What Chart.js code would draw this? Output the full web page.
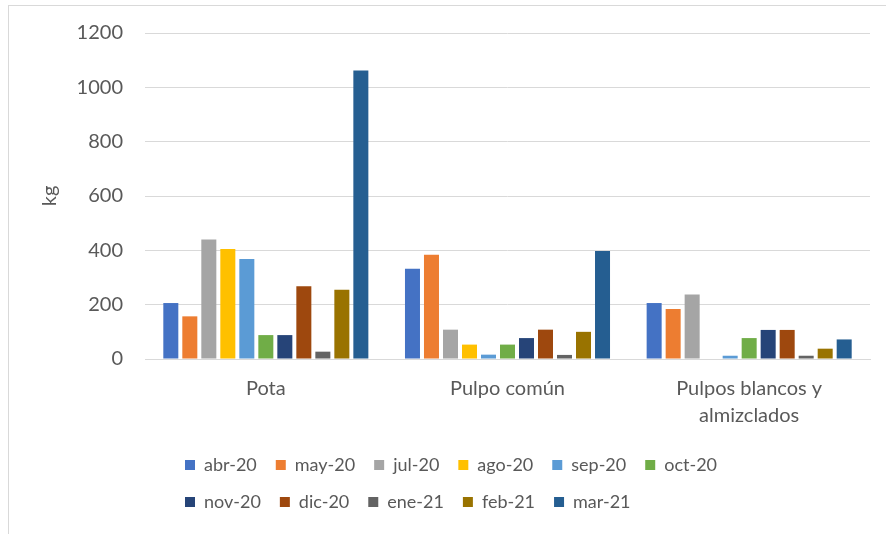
<!DOCTYPE html>
<html>
<head>
<meta charset="utf-8">
<script src="https://cdn.jsdelivr.net/npm/chart.js@4/dist/chart.umd.min.js"></script>
<style>
  html, body { margin: 0; padding: 0; background: #fff; }
  #frame {
    position: absolute; left: 8px; top: 5px; width: 878px; height: 529px;
    border-left: 1px solid #d9d9d9; border-top: 1px solid #d9d9d9;
  }
  #wrap { position: relative; width: 877px; height: 528px; }
</style>
</head>
<body>
<div id="frame"><div id="wrap"><canvas id="kgChart"></canvas></div></div>
<script>
// Categories (x axis) and months (series)
const categories = ["Pota", "Pulpo común", ["Pulpos blancos y", "almizclados"]];
const months = ["abr-20", "may-20", "jul-20", "ago-20", "sep-20", "oct-20",
  "nov-20", "dic-20", "ene-21", "feb-21", "mar-21"];

// kg per month, one array per category
const pota = [206, 157, 440, 405, 368, 88, 88, 268, 27, 255, 1062];
const pulpoComun = [332, 384, 108, 53, 16, 53, 77, 108, 15, 100, 398];
const pulposBlancos = [206, 184, 237, null, 12, 77, 107, 107, 12, 38, 72];

const yTicks = [0, 200, 400, 600, 800, 1000, 1200];

const colors = ["#4472c4", "#ed7d31", "#a5a5a5", "#ffc000", "#5b9bd5", "#70ad47",
  "#264478", "#9e480e", "#636363", "#997300", "#255e91"];

const textColor = "#595959";
const fontFamily = "Lato, 'Liberation Sans', sans-serif";

// legend wraps at 6 items per row and starts rows at a fixed x
const legendRows = {
  id: "legendRows",
  afterInit(chart) {
    const lg = chart.legend;
    const update = lg.update.bind(lg);
    lg.update = (w, h, m) => update(Math.min(w, 600), h, m);
  },
  afterLayout(chart) {
    const lg = chart.legend;
    lg.left = 176 - lg.options.labels.padding;
    lg.right = 760;
  },
};

const ctx = document.getElementById("kgChart").getContext("2d");
const kgChart = new Chart(ctx, {
  type: "bar",
  data: {
    labels: categories,
    datasets: months.map((m, i) => ({
      label: m,
      data: [pota[i], pulpoComun[i], pulposBlancos[i]],
      backgroundColor: colors[i],
      categoryPercentage: 0.865,
      barPercentage: 0.79,
    })),
  },
  options: {
    responsive: true,
    maintainAspectRatio: false,
    animation: false,
    layout: { padding: { left: 25, right: 16, top: 27, bottom: 13 } },
    plugins: {
      tooltip: { enabled: false },
      legend: {
        position: "bottom",
        align: "start",
        labels: {
          boxWidth: 10,
          boxHeight: 10,
          padding: 19,
          color: textColor,
          font: { family: fontFamily, size: 18 },
        },
      },
    },
    scales: {
      x: {
        afterFit: (s) => { s.height = 78; },
        grid: { display: false, drawTicks: false },
        border: { display: true, color: "#d9d9d9" },
        ticks: {
          color: textColor,
          font: { family: fontFamily, size: 20, lineHeight: 1.35 },
          padding: 16,
          maxRotation: 0,
          autoSkip: false,
        },
      },
      y: {
        min: 0,
        max: 1200,
        afterFit: (s) => { s.width = 111; },
        afterBuildTicks: (s) => { s.ticks = yTicks.map((v) => ({ value: v })); },
        grid: { color: "#d9d9d9", tickLength: 19, tickColor: "rgba(0,0,0,0)" },
        border: { display: false },
        ticks: {
          color: textColor,
          font: { family: fontFamily, size: 20 },
          padding: 3,
          callback: (v) => String(v),
        },
        title: {
          display: true,
          text: "kg",
          color: textColor,
          font: { family: fontFamily, size: 20 },
        },
      },
    },
  },
  plugins: [legendRows],
});
</script>
</body>
</html>
